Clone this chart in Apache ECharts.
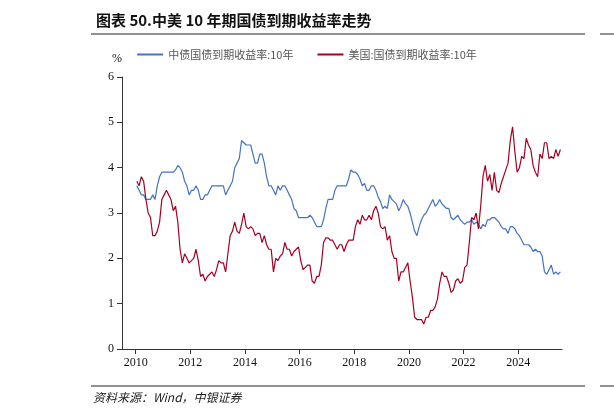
<!DOCTYPE html><html><head><meta charset="utf-8"><script src="https://cdn.jsdelivr.net/npm/echarts@6/dist/echarts.min.js"></script></head><body style="margin:0"><div id="c" style="width:614px;height:420px"></div><script>
const startYear = 2010;
const cnYield = [3.6,3.5,3.4,3.4,3.3,3.3,3.3,3.4,3.3,3.6,3.8,3.9,
3.9,3.9,3.9,3.9,3.9,3.95,4.05,4.0,3.9,3.7,3.6,3.4,
3.5,3.5,3.6,3.5,3.3,3.3,3.4,3.4,3.5,3.6,3.6,3.6,
3.6,3.6,3.6,3.4,3.5,3.6,3.7,4.0,4.1,4.2,4.6,4.55,
4.5,4.5,4.5,4.3,4.1,4.1,4.3,4.3,4.1,3.8,3.6,3.6,
3.5,3.4,3.6,3.5,3.6,3.6,3.5,3.4,3.3,3.1,3.05,2.9,
2.9,2.9,2.9,2.9,2.95,2.9,2.8,2.7,2.7,2.7,2.85,3.1,
3.3,3.3,3.3,3.5,3.6,3.6,3.6,3.6,3.6,3.75,3.95,3.9,
3.9,3.85,3.75,3.6,3.65,3.5,3.5,3.6,3.6,3.5,3.35,3.25,
3.1,3.15,3.1,3.4,3.3,3.25,3.2,3.05,3.15,3.3,3.2,3.15,
3.0,2.8,2.6,2.5,2.7,2.85,2.95,3.0,3.1,3.2,3.3,3.15,
3.2,3.3,3.2,3.15,3.1,3.1,2.9,2.85,2.9,2.95,2.85,2.8,
2.75,2.8,2.8,2.85,2.75,2.8,2.75,2.65,2.75,2.7,2.85,2.85,
2.9,2.9,2.85,2.8,2.7,2.65,2.65,2.55,2.7,2.7,2.65,2.55,
2.5,2.4,2.3,2.3,2.3,2.25,2.15,2.2,2.15,2.15,2.05,1.7,
1.65,1.75,1.85,1.65,1.7,1.65,1.7];
const usYield = [3.7,3.6,3.8,3.7,3.3,3.0,2.9,2.5,2.5,2.6,2.8,3.3,
3.4,3.5,3.4,3.3,3.05,3.15,2.8,2.2,1.9,2.1,2.0,1.9,
1.95,2.0,2.2,1.95,1.6,1.65,1.5,1.6,1.65,1.7,1.6,1.75,
1.95,1.9,1.9,1.7,2.1,2.5,2.6,2.8,2.6,2.55,2.75,3.0,
2.7,2.65,2.7,2.65,2.5,2.55,2.55,2.35,2.5,2.3,2.2,2.2,
1.7,2.0,1.95,2.05,2.1,2.35,2.2,2.2,2.05,2.15,2.2,2.25,
1.95,1.75,1.8,1.85,1.85,1.5,1.45,1.6,1.6,1.85,2.35,2.45,
2.45,2.4,2.4,2.3,2.2,2.3,2.3,2.15,2.3,2.4,2.4,2.4,
2.7,2.85,2.75,2.95,2.85,2.85,2.95,2.85,3.05,3.15,3.0,2.7,
2.65,2.7,2.4,2.5,2.15,2.0,2.0,1.5,1.7,1.7,1.8,1.9,
1.5,1.15,0.7,0.65,0.65,0.65,0.55,0.7,0.7,0.85,0.85,0.93,
1.1,1.45,1.7,1.6,1.6,1.45,1.25,1.3,1.5,1.55,1.45,1.5,
1.8,1.85,2.35,2.9,2.85,3.0,2.65,3.15,3.8,4.05,3.7,3.85,
3.5,3.9,3.5,3.45,3.65,3.8,3.95,4.1,4.6,4.9,4.35,3.9,
4.0,4.25,4.2,4.65,4.5,4.4,4.05,3.9,3.8,4.3,4.2,4.55,
4.55,4.2,4.25,4.2,4.4,4.25,4.4];
const yearLabels = [2010,2012,2014,2016,2018,2020,2022,2024];
const seriesNames = ['中债国债到期收益率:10年','美国:国债到期收益率:10年'];
const toPts = a => a.map((v,i)=>[startYear+(i+0.5)/12, v]);
const serif = 'Liberation Serif';
const ch = echarts.init(document.getElementById('c'));
ch.setOption({
  animation:false,
  title:{text:'图表 50.中美 10 年期国债到期收益率走势',left:91,top:8,textStyle:{fontFamily:'Noto Sans CJK SC',fontWeight:'bold',fontSize:15,color:'#111'}},
  legend:{top:44,left:'center',itemWidth:26,itemHeight:2,itemGap:24,icon:'rect',textStyle:{fontSize:11,color:'#555',fontFamily:'Noto Sans CJK SC'}},
  grid:{left:122,right:52,top:77,bottom:71},
  xAxis:{type:'value',min:2009.5,max:2025.6,splitLine:{show:false},
    axisLine:{lineStyle:{color:'#333'}},
    axisTick:{customValues:yearLabels,lineStyle:{color:'#333'}},
    axisLabel:{customValues:yearLabels,formatter:v=>String(v),fontFamily:serif,fontSize:12,color:'#111'}},
  yAxis:{type:'value',min:0,max:6,interval:1,name:'%',nameGap:12,nameTextStyle:{fontFamily:serif,fontSize:12,color:'#111',align:'right'},
    splitLine:{show:false},axisLine:{show:true,lineStyle:{color:'#333'}},axisTick:{show:true,lineStyle:{color:'#333'}},
    axisLabel:{fontFamily:serif,fontSize:12,color:'#111'}},
  series:[
    {name:seriesNames[0],type:'line',data:toPts(cnYield),showSymbol:false,lineStyle:{width:1.2,color:'#4472C4'},itemStyle:{color:'#4472C4'}},
    {name:seriesNames[1],type:'line',data:toPts(usYield),showSymbol:false,lineStyle:{width:1.2,color:'#A50021'},itemStyle:{color:'#A50021'}}
  ],
  graphic:[
    {type:'line',shape:{x1:91,y1:34,x2:585,y2:34},style:{stroke:'#222',lineWidth:1}},
    {type:'line',shape:{x1:600,y1:34,x2:614,y2:34},style:{stroke:'#222',lineWidth:1}},
    {type:'line',shape:{x1:91,y1:386,x2:585,y2:386},style:{stroke:'#222',lineWidth:1}},
    {type:'line',shape:{x1:600,y1:386,x2:614,y2:386},style:{stroke:'#222',lineWidth:1}},
    {type:'text',left:93,top:391,style:{text:'资料来源：Wind，中银证券',fontFamily:'Noto Sans CJK SC',fontStyle:'italic',fontSize:12,fill:'#222'}}
  ]
});
</script></body></html>
